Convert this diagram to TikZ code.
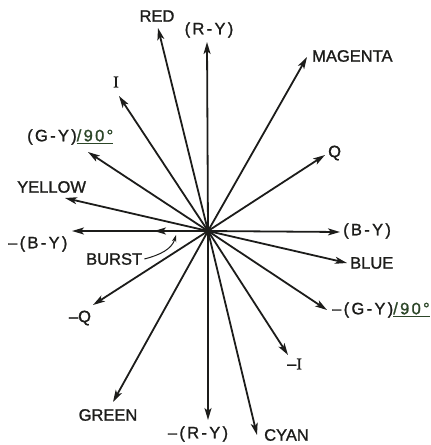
\documentclass[tikz,border=0pt]{standalone}
\usepackage{fontspec}
\setmainfont[FakeBold=1.3]{Liberation Sans}
\newfontfamily\wideface[LetterSpace=14,FakeBold=1.3]{Liberation Sans}
\newfontfamily\serifface[FakeBold=1.3]{Liberation Serif}
\usetikzlibrary{arrows.meta}
\definecolor{inkdark}{HTML}{1C1C1A}
\definecolor{inkgreen}{HTML}{2C4628}
\newcommand{\angmark}[1]{{\color{inkgreen}\underline{/#1}}}

\begin{document}
\begin{tikzpicture}[x=1pt,y=-1pt,>={Stealth[length=12pt,width=7pt,inset=3pt]},
  vec/.style={inkdark,line width=1.8pt,->},
  lbl/.style={inkdark,inner sep=0pt,font=\fontsize{16.5}{16.5}\selectfont},
  wlbl/.style={lbl,font=\fontsize{16.5}{16.5}\selectfont\wideface}]
  \useasboundingbox (0,0) rectangle (431,445);
  \coordinate (O) at (208,231);
  % arrow tips
  \coordinate (tRed) at (158,28);
  \coordinate (tRY) at (207,42);
  \coordinate (tMag) at (307,57);
  \coordinate (tQ) at (325,155);
  \coordinate (tBY) at (340,232);
  \coordinate (tBlue) at (347,263);
  \coordinate (tmGY) at (327,310);
  \coordinate (tmI) at (288,355);
  \coordinate (tCyan) at (257,435);
  \coordinate (tmRY) at (208,420);
  \coordinate (tGreen) at (113,402);
  \coordinate (tmQ) at (93,305);
  \coordinate (tmBY) at (72,231);
  \coordinate (tBurst) at (154,231);
  \coordinate (tYel) at (65,198);
  \coordinate (tGY) at (88,152);
  \coordinate (tI) at (119,96);
  % labels
  \node[lbl] (lRed) at (157,16) {RED};
  \node[wlbl] (lRY) at (209,30) {(R-Y)};
  \node[lbl,anchor=west] (lMag) at (312,56) {MAGENTA};
  \node[lbl,anchor=west] (lQ) at (328,153) {Q};
  \node[wlbl,anchor=west] (lBY) at (343,231) {(B-Y)};
  \node[lbl,anchor=west] (lBlue) at (350,263) {BLUE};
  \node[wlbl,anchor=west] (lmGY) at (332,310) {–(G-Y)\angmark{90°}};
  \node[lbl,anchor=west] (lmI) at (287,364) {–{\serifface I}};
  \node[lbl,anchor=west] (lCyan) at (264,435) {CYAN};
  \node[wlbl] (lmRY) at (198,434) {–(R-Y)};
  \node[lbl] (lGreen) at (108,415) {GREEN};
  \node[lbl] (lmQ) at (80,318) {–Q};
  \node[wlbl,anchor=west] (lmBY) at (8,244) {–(B-Y)};
  \node[lbl,anchor=west] (lBurst) at (86,259) {BURST};
  \node[lbl,anchor=west] (lYel) at (17,187) {YELLOW};
  \node[wlbl,anchor=west] (lGY) at (27,137) {(G-Y)\angmark{90°}};
  \node[lbl] (lI) at (116,82) {\serifface I};
  % vectors
  \foreach \t in {tRed,tRY,tMag,tQ,tBY,tBlue,tmGY,tmI,tCyan,tmRY,tGreen,tmQ,tmBY,tBurst,tYel,tGY,tI}
    \draw[vec] (O) -- (\t);
  \fill[inkdark] (O) circle (3.5pt);
  % burst pointer
  \coordinate (bEnd) at (176,235);
  \draw[inkdark,line width=1pt,-{Stealth[length=7pt,width=4.5pt]}]
    ([xshift=2pt]lBurst.east) .. controls (160,255) and (172,249) .. (bEnd);
\end{tikzpicture}
\end{document}
